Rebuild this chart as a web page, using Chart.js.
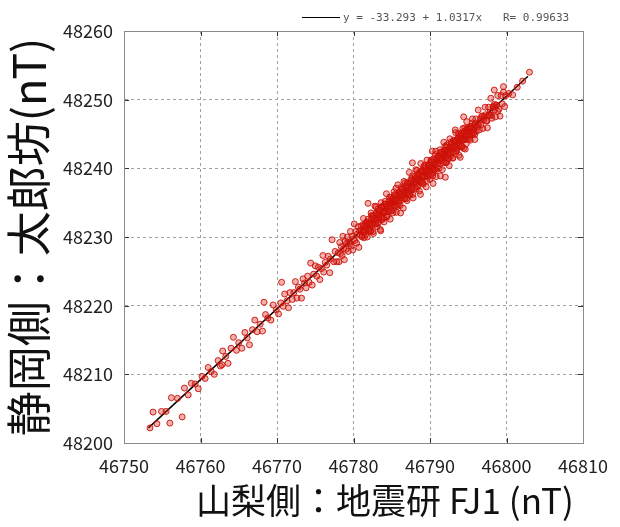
<!DOCTYPE html>
<html>
<head>
<meta charset="utf-8">
<script src="https://cdn.jsdelivr.net/npm/chart.js@4"></script>
<style>
  html, body { margin: 0; padding: 0; background: #fff; }
  canvas { display: block; }
</style>
</head>
<body>
<canvas id="chart" width="620" height="527"></canvas>
<script>
// --------------------------- Data

// FJ1 (Yamanashi side) total force, nT
const fieldX = [
    // sparse lower end
    46753.4, 46753.8, 46754.3, 46754.9, 46755.5, 46756.0, 46756.2, 46757.0, 46757.6, 46757.9,
    46758.4, 46758.8, 46759.3, 46759.7, 46760.2,
    46760.6, 46761.0, 46761.4, 46761.8, 46762.3, 46762.6, 46762.9, 46763.3, 46763.6, 46764.0,
    46764.3, 46764.7, 46765.0, 46765.4, 46765.8, 46766.1, 46766.4, 46766.8, 46767.1, 46767.4,
    46767.8, 46768.1, 46768.5, 46768.8, 46769.2, 46769.5, 46769.9,
    46770.2, 46770.5, 46770.8, 46771.0, 46771.3, 46771.5, 46771.7, 46772.0, 46772.2, 46772.4,
    46772.6, 46772.8, 46773.0, 46773.2, 46773.4, 46773.6, 46773.8, 46774.0, 46774.2, 46774.4,
    46774.6, 46774.8, 46775.0, 46775.2, 46775.4, 46775.6, 46775.8, 46776.0, 46776.1, 46776.3,
    46776.5, 46776.7, 46776.9, 46777.0, 46777.2, 46777.4, 46777.6, 46777.8, 46768.3, 46770.6,
    46762.8,
    46778.0, 46778.1, 46778.2, 46778.3, 46778.4, 46778.5, 46778.6, 46778.7, 46778.8, 46778.9,
    46779.0, 46779.1, 46779.2, 46779.3, 46779.4, 46779.5, 46779.6, 46779.7, 46779.8, 46779.9,
    46780.0, 46780.1, 46780.2, 46780.3, 46780.4, 46780.5, 46780.6, 46780.7, 46780.8, 46780.9,
    46781.0, 46781.1, 46781.2, 46781.3, 46781.4, 46781.5, 46781.6, 46781.7, 46781.8, 46781.9,
    46782.0,
    // dense middle
    46782.1, 46782.2, 46782.3, 46782.4, 46782.5, 46782.6, 46782.7, 46782.8, 46782.9, 46783.0,
    46783.1, 46783.2, 46783.3, 46783.4, 46783.5, 46783.6, 46783.7, 46783.8, 46783.9, 46784.0,
    46784.1, 46784.2, 46784.3, 46784.4, 46784.5, 46784.6, 46784.7, 46784.8, 46784.9, 46785.0,
    46785.1, 46785.2, 46785.3, 46785.4, 46785.5, 46785.6, 46785.7, 46785.8, 46785.9, 46786.0,
    46786.1, 46786.2, 46786.3, 46786.4, 46786.5, 46786.6, 46786.7, 46786.8, 46786.9, 46787.0,
    46787.1, 46787.2, 46787.3, 46787.4, 46787.5, 46787.6, 46787.7, 46787.8, 46787.9, 46788.0,
    46788.1, 46788.2, 46788.3, 46788.4, 46788.5, 46788.6, 46788.7, 46788.8, 46788.9, 46789.0,
    46789.1, 46789.2, 46789.3, 46789.4, 46789.5, 46789.6, 46789.7, 46789.8, 46789.9, 46790.0,
    46790.1, 46790.2, 46790.3, 46790.4, 46790.5, 46790.6, 46790.7, 46790.8, 46790.9, 46791.0,
    46791.1, 46791.2, 46791.3, 46791.4, 46791.5, 46791.6, 46791.7, 46791.8, 46791.9, 46792.0,
    46792.1, 46792.2, 46792.3, 46792.4, 46792.5, 46792.6, 46792.7, 46792.8, 46792.9, 46793.0,
    46793.1, 46793.2, 46793.3, 46793.4, 46793.5, 46793.6, 46793.7, 46793.8, 46793.9, 46794.0,
    46794.1, 46794.2, 46794.3, 46794.4, 46794.5, 46794.6, 46794.7, 46794.8, 46794.9, 46795.0,
    46782.15, 46782.35, 46782.55, 46782.75, 46782.95, 46783.15, 46783.35, 46783.55, 46783.75, 46783.95,
    46784.15, 46784.35, 46784.55, 46784.75, 46784.95, 46785.15, 46785.35, 46785.55, 46785.75, 46785.95,
    46786.15, 46786.35, 46786.55, 46786.75, 46786.95, 46787.15, 46787.35, 46787.55, 46787.75, 46787.95,
    46788.15, 46788.35, 46788.55, 46788.75, 46788.95, 46789.15, 46789.35, 46789.55, 46789.75, 46789.95,
    46790.15, 46790.35, 46790.55, 46790.75, 46790.95, 46791.15, 46791.35, 46791.55, 46791.75, 46791.95,
    46792.15, 46792.35, 46792.55, 46792.75, 46792.95, 46793.15, 46793.35, 46793.55, 46793.75, 46793.95,
    46794.15, 46794.35, 46794.55, 46794.75, 46794.95,
    46792.0, 46794.4, 46790.4, 46787.7, 46794.4,
    // core of the band
    46781.05, 46781.15, 46781.25, 46781.35, 46781.45, 46781.55, 46781.65, 46781.75, 46781.85, 46781.95,
    46782.05, 46782.15, 46782.25, 46782.35, 46782.45, 46782.55, 46782.65, 46782.75, 46782.85, 46782.95,
    46783.05, 46783.15, 46783.25, 46783.35, 46783.45, 46783.55, 46783.65, 46783.75, 46783.85, 46783.95,
    46784.05, 46784.15, 46784.25, 46784.35, 46784.45, 46784.55, 46784.65, 46784.75, 46784.85, 46784.95,
    46785.05, 46785.15, 46785.25, 46785.35, 46785.45, 46785.55, 46785.65, 46785.75, 46785.85, 46785.95,
    46786.05, 46786.15, 46786.25, 46786.35, 46786.45, 46786.55, 46786.65, 46786.75, 46786.85, 46786.95,
    46787.05, 46787.15, 46787.25, 46787.35, 46787.45, 46787.55, 46787.65, 46787.75, 46787.85, 46787.95,
    46788.05, 46788.15, 46788.25, 46788.35, 46788.45, 46788.55, 46788.65, 46788.75, 46788.85, 46788.95,
    46789.05, 46789.15, 46789.25, 46789.35, 46789.45, 46789.55, 46789.65, 46789.75, 46789.85, 46789.95,
    46790.05, 46790.15, 46790.25, 46790.35, 46790.45, 46790.55, 46790.65, 46790.75, 46790.85, 46790.95,
    46791.05, 46791.15, 46791.25, 46791.35, 46791.45, 46791.55, 46791.65, 46791.75, 46791.85, 46791.95,
    46792.05, 46792.15, 46792.25, 46792.35, 46792.45, 46792.55, 46792.65, 46792.75, 46792.85, 46792.95,
    46793.05, 46793.15, 46793.25, 46793.35, 46793.45, 46793.55, 46793.65, 46793.75, 46793.85, 46793.95,
    46794.05, 46794.15, 46794.25, 46794.35, 46794.45, 46794.55, 46794.65, 46794.75, 46794.85, 46794.95,
    46795.05, 46795.15, 46795.25, 46795.35, 46795.45, 46795.55, 46795.65, 46795.75, 46795.85, 46795.95,
    46795.05, 46795.25, 46795.45, 46795.65, 46795.85, 46796.05, 46796.25, 46796.45, 46796.65, 46796.85,
    46797.05, 46797.25, 46797.45, 46797.65, 46797.85, 46798.05, 46798.25, 46798.45, 46798.65, 46798.85,
    // upper end
    46795.1, 46795.25, 46795.4, 46795.55, 46795.7, 46795.85, 46796.0, 46796.15, 46796.3, 46796.45,
    46796.6, 46796.75, 46796.9, 46797.05, 46797.2, 46797.35, 46797.5, 46797.65, 46797.8, 46797.95,
    46798.1, 46798.25, 46798.4, 46798.55, 46798.7, 46798.85, 46799.0, 46799.15, 46799.3, 46799.45,
    46799.6, 46799.75, 46799.9,
    46800.3, 46800.8, 46801.4, 46802.1, 46803.0, 46798.4, 46799.6
];

// Taroubou (Shizuoka side) total force, nT
const fieldY = [
    48202.2, 48204.5, 48202.8, 48204.6, 48204.6, 48202.9, 48206.6, 48206.5, 48203.8, 48208.0,
    48207.0, 48208.7, 48208.6, 48207.9, 48209.7,
    48209.4, 48211.0, 48210.4, 48210.0, 48212.0, 48211.2, 48213.4, 48212.6, 48211.6, 48213.8,
    48215.4, 48213.5, 48214.6, 48213.8, 48216.1, 48215.3, 48214.3, 48216.5, 48217.9, 48216.2,
    48217.3, 48216.3, 48218.7, 48218.2, 48217.9, 48220.1, 48219.4,
    48218.8, 48220.4, 48219.9, 48221.7, 48220.7, 48219.7, 48221.9, 48220.9, 48221.9, 48223.5,
    48221.1, 48222.7, 48222.4, 48221.1, 48223.9, 48223.3, 48222.6, 48224.3, 48223.4, 48226.2,
    48223.0, 48224.6, 48225.8, 48224.3, 48225.6, 48223.8, 48225.4, 48227.3, 48224.9, 48226.3,
    48225.9, 48227.2, 48224.8, 48226.8, 48229.6, 48226.4, 48227.9, 48226.4, 48220.5, 48223.4,
    48211.4,
    48227.7, 48226.4, 48229.2, 48227.6, 48228.6, 48227.3, 48230.1, 48228.3, 48226.7, 48229.4,
    48228.2, 48229.1, 48230.0, 48227.9, 48229.2, 48229.0, 48230.8, 48228.7, 48230.1, 48228.1,
    48229.7, 48231.9, 48229.5, 48230.8, 48229.1, 48230.4, 48231.5, 48228.5, 48230.9, 48230.3,
    48231.6, 48230.0, 48230.8, 48232.7, 48229.9, 48231.8, 48230.9, 48232.2, 48230.0, 48234.9,
    48231.9,
    48232.2, 48230.8, 48233.5, 48231.9, 48233.1, 48230.5, 48232.5, 48234.5, 48231.9, 48233.3,
    48231.5, 48234.1, 48232.6, 48233.4, 48231.1, 48235.0, 48232.5, 48234.3, 48233.6, 48232.2,
    48234.8, 48233.6, 48236.3, 48233.1, 48234.7, 48233.7, 48235.8, 48232.6, 48234.9, 48235.5,
    48235.3, 48233.9, 48236.6, 48235.0, 48236.2, 48233.6, 48235.6, 48237.6, 48235.0, 48236.4,
    48234.6, 48237.2, 48235.7, 48236.5, 48234.2, 48238.1, 48235.6, 48237.4, 48236.7, 48235.3,
    48237.9, 48236.7, 48239.4, 48236.2, 48237.8, 48236.8, 48238.9, 48235.7, 48237.9, 48238.5,
    48238.3, 48237.0, 48239.7, 48238.1, 48239.3, 48236.7, 48238.7, 48240.7, 48238.1, 48239.5,
    48237.7, 48240.3, 48238.8, 48239.6, 48237.3, 48241.2, 48238.7, 48240.5, 48239.8, 48238.4,
    48241.0, 48239.8, 48242.5, 48239.3, 48240.9, 48239.9, 48242.0, 48238.8, 48241.0, 48241.6,
    48241.4, 48240.0, 48242.7, 48241.1, 48242.3, 48239.8, 48241.8, 48243.8, 48241.2, 48242.6,
    48240.8, 48243.4, 48241.9, 48242.7, 48240.4, 48244.3, 48241.8, 48243.6, 48242.9, 48241.5,
    48244.1, 48242.9, 48245.6, 48242.4, 48244.0, 48243.0, 48245.1, 48241.9, 48244.1, 48244.7,
    48244.5, 48243.1, 48245.8, 48244.2, 48245.4, 48242.8, 48244.8, 48246.8, 48244.3, 48245.7,
    48231.3, 48233.1, 48230.8, 48232.6, 48234.4, 48232.0, 48233.7, 48230.9, 48234.4, 48233.6,
    48235.2, 48232.9, 48234.7, 48234.0, 48235.8, 48233.5, 48235.3, 48237.1, 48234.7, 48236.3,
    48233.5, 48237.0, 48236.2, 48237.9, 48235.6, 48237.4, 48236.7, 48238.5, 48236.2, 48238.0,
    48239.8, 48237.4, 48239.0, 48236.2, 48239.7, 48238.9, 48240.5, 48238.2, 48240.0, 48239.4,
    48241.2, 48238.9, 48240.7, 48242.5, 48240.1, 48241.7, 48238.9, 48242.4, 48241.6, 48243.2,
    48240.9, 48242.7, 48242.0, 48243.8, 48241.5, 48243.3, 48245.2, 48242.8, 48244.4, 48241.6,
    48245.1, 48244.3, 48245.9, 48243.6, 48245.4,
    48238.7, 48242.9, 48237.8, 48240.8, 48247.5,
    48231.0, 48230.2, 48231.8, 48230.8, 48231.6, 48230.3, 48231.4, 48232.1, 48231.1, 48232.6,
    48231.0, 48232.0, 48230.9, 48232.6, 48231.8, 48233.0, 48232.3, 48232.7, 48231.9, 48233.5,
    48232.5, 48233.3, 48232.1, 48233.2, 48233.9, 48232.9, 48234.4, 48232.8, 48233.8, 48232.7,
    48234.4, 48233.6, 48234.8, 48234.1, 48234.5, 48233.7, 48235.3, 48234.3, 48235.1, 48233.8,
    48234.9, 48235.6, 48234.6, 48236.1, 48234.5, 48235.5, 48234.4, 48236.1, 48235.3, 48236.5,
    48235.8, 48236.2, 48235.4, 48237.0, 48236.0, 48236.9, 48235.6, 48236.7, 48237.4, 48236.4,
    48237.9, 48236.3, 48237.3, 48236.2, 48237.9, 48237.1, 48238.3, 48237.6, 48238.0, 48237.2,
    48238.8, 48237.8, 48238.6, 48237.3, 48238.4, 48239.1, 48238.1, 48239.6, 48238.0, 48239.0,
    48237.9, 48239.6, 48238.8, 48240.0, 48239.3, 48239.7, 48238.9, 48240.5, 48239.6, 48240.4,
    48239.1, 48240.2, 48240.9, 48239.9, 48241.4, 48239.8, 48240.8, 48239.7, 48241.4, 48240.6,
    48241.8, 48241.1, 48241.5, 48240.7, 48242.3, 48241.3, 48242.1, 48240.8, 48241.9, 48242.6,
    48241.6, 48243.1, 48241.5, 48242.5, 48241.4, 48243.1, 48242.3, 48243.5, 48242.8, 48243.2,
    48242.4, 48244.0, 48243.1, 48243.9, 48242.6, 48243.7, 48244.4, 48243.4, 48244.9, 48243.3,
    48244.3, 48243.2, 48244.9, 48244.1, 48245.3, 48244.6, 48245.0, 48244.2, 48245.8, 48244.8,
    48245.6, 48244.3, 48245.4, 48246.1, 48245.1, 48246.6, 48245.0, 48246.0, 48244.9, 48246.6,
    48245.3, 48244.8, 48246.1, 48245.6, 48246.3, 48245.4, 48246.3, 48246.7, 48246.3, 48247.6,
    48247.1, 48247.8, 48246.9, 48247.8, 48248.2, 48247.7, 48249.0, 48248.5, 48249.2, 48248.3,
    48245.9, 48244.1, 48245.8, 48247.2, 48245.2, 48244.2, 48247.2, 48246.0, 48248.5, 48245.6,
    48247.2, 48247.6, 48245.8, 48247.5, 48248.9, 48246.9, 48245.9, 48248.9, 48247.7, 48250.2,
    48247.3, 48248.9, 48249.3, 48247.5, 48249.2, 48250.6, 48248.6, 48247.6, 48250.6, 48249.4,
    48251.9, 48249.0, 48250.6,
    48250.9, 48250.7, 48251.8, 48252.7, 48254.0, 48251.4, 48251.1
];

// regression line end points
const fitX = [46753.2, 46802.8];
const fitY = [48202.2, 48253.4];

const fitText = 'y = -33.293 + 1.0317x';
const corrText = 'R= 0.99633';

const xTitle = '山梨側：地震研 FJ1 (nT)';
const yTitle = '静岡側：太郎坊(nT)';

const xRange = [46750, 46810];
const yRange = [48200, 48260];
const tickStep = 10;

// --------------------------- Chart

Chart.defaults.font.family = "'Noto Sans CJK JP', 'DejaVu Sans', sans-serif";

const n = Math.min(fieldX.length, fieldY.length);
const points = [];
for (let i = 0; i < n; i++) points.push({x: fieldX[i], y: fieldY[i]});
const fitPoints = fitX.map((x, i) => ({x: x, y: fitY[i]}));

// frame on top/right, inward tick marks, fit legend and x title
const framePlugin = {
    id: 'frame',
    afterDraw(chart) {
        const {ctx, chartArea: a, scales} = chart;
        ctx.save();

        ctx.strokeStyle = '#333';
        ctx.lineWidth = 1;
        ctx.beginPath();
        scales.x.ticks.forEach(t => {
            const px = Math.round(scales.x.getPixelForValue(t.value)) + 0.5;
            ctx.moveTo(px, a.bottom); ctx.lineTo(px, a.bottom - 5);
            ctx.moveTo(px, a.top); ctx.lineTo(px, a.top + 5);
        });
        scales.y.ticks.forEach(t => {
            const py = Math.round(scales.y.getPixelForValue(t.value)) + 0.5;
            ctx.moveTo(a.left, py); ctx.lineTo(a.left + 5, py);
            ctx.moveTo(a.right, py); ctx.lineTo(a.right - 5, py);
        });
        ctx.stroke();

        ctx.strokeStyle = '#8a8a8a';
        ctx.strokeRect(Math.round(a.left) + 0.5, Math.round(a.top) + 0.5,
                       Math.round(a.right - a.left), Math.round(a.bottom - a.top));

        // fit legend
        ctx.strokeStyle = '#000';
        ctx.beginPath();
        ctx.moveTo(302, 17.5); ctx.lineTo(340, 17.5);
        ctx.stroke();
        ctx.fillStyle = '#555';
        ctx.font = "11px 'DejaVu Sans Mono', monospace";
        ctx.textBaseline = 'middle';
        ctx.textAlign = 'left';
        ctx.fillText(fitText, 343, 18);
        ctx.fillText(corrText, 503, 18);

        // x axis title
        ctx.fillStyle = '#111';
        ctx.font = "35px 'Noto Sans CJK JP', sans-serif";
        ctx.textAlign = 'center';
        ctx.fillText(xTitle, 385, 501);

        ctx.restore();
    }
};

new Chart(document.getElementById('chart'), {
    type: 'scatter',
    data: {
        datasets: [
            {
                label: 'FJ1 vs Taroubou',
                data: points,
                pointStyle: 'circle',
                pointRadius: 3,
                borderWidth: 1,
                borderColor: 'rgba(204, 16, 8, 0.9)',
                backgroundColor: 'rgba(212, 28, 18, 0.35)',
                order: 0
            },
            {
                label: fitText,
                data: fitPoints,
                showLine: true,
                pointRadius: 0,
                borderColor: '#000',
                borderWidth: 1.5,
                order: 1
            }
        ]
    },
    options: {
        responsive: false,
        animation: false,
        layout: {
            padding: {top: 31, right: 33, left: 0, bottom: 0}
        },
        plugins: {
            legend: {display: false},
            tooltip: {enabled: false}
        },
        scales: {
            x: {
                type: 'linear',
                min: xRange[0],
                max: xRange[1],
                ticks: {
                    stepSize: tickStep,
                    padding: 12,
                    color: '#222',
                    font: {size: 18},
                    maxRotation: 0,
                    callback: v => String(v)
                },
                grid: {color: '#a0a0a0', drawTicks: false},
                border: {color: '#8a8a8a', dash: [3, 3]},
                afterFit: s => { s.height = 84; }
            },
            y: {
                type: 'linear',
                min: yRange[0],
                max: yRange[1],
                ticks: {
                    stepSize: tickStep,
                    padding: 11,
                    color: '#222',
                    font: {size: 18},
                    callback: v => String(v)
                },
                grid: {color: '#a0a0a0', drawTicks: false},
                border: {color: '#8a8a8a', dash: [3, 3]},
                title: {
                    display: true,
                    text: yTitle,
                    color: '#111',
                    font: {size: 45},
                    padding: {top: 2, bottom: 0}
                },
                afterFit: s => { s.width = 124; }
            }
        }
    },
    plugins: [framePlugin]
});
</script>
</body>
</html>
